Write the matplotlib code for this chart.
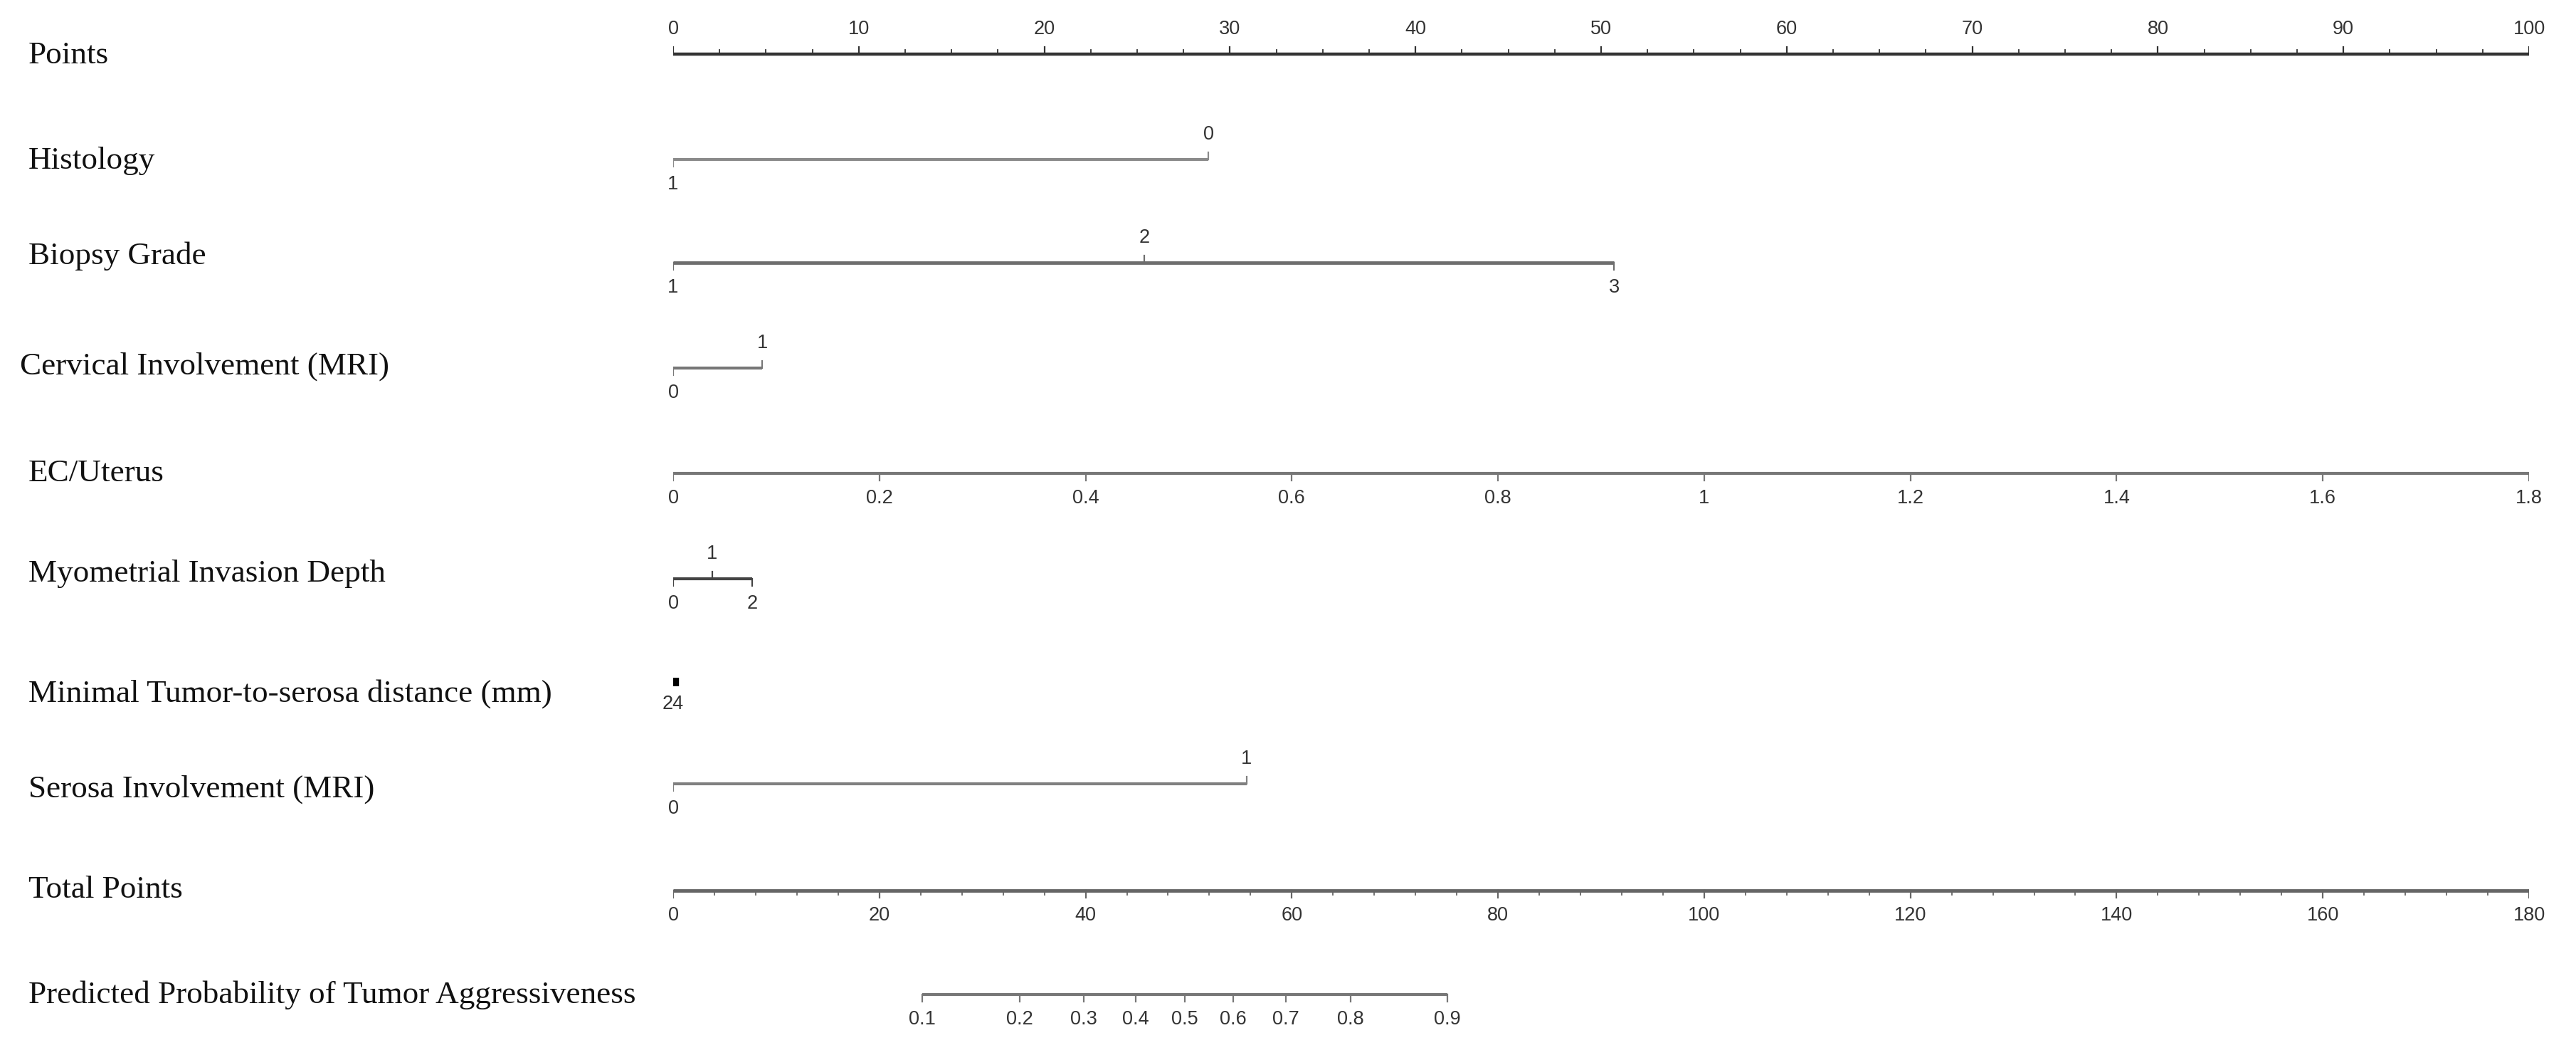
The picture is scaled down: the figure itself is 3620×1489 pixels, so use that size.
import matplotlib
matplotlib.use("Agg")
import matplotlib.pyplot as plt
from matplotlib import font_manager
from matplotlib.transforms import blended_transform_factory

# nomogram rows: name, category values, points each value is worth
row_names = ["Points", "Histology", "Biopsy Grade", "Cervical Involvement (MRI)", "EC/Uterus",
             "Myometrial Invasion Depth", "Minimal Tumor-to-serosa distance (mm)",
             "Serosa Involvement (MRI)", "Total Points",
             "Predicted Probability of Tumor Aggressiveness"]

histology_vals = ["1", "0"]
histology_pts = [0, 28.85]
grade_vals = ["1", "2", "3"]
grade_pts = [0, 25.4, 50.7]
cervical_vals = ["0", "1"]
cervical_pts = [0, 4.8]
ecu_vals = [0, 0.2, 0.4, 0.6, 0.8, 1, 1.2, 1.4, 1.6, 1.8]
ecu_max_pts = 100
myo_vals = ["0", "1", "2"]
myo_pts = [0, 2.1, 4.25]
distance_vals = ["24"]
distance_pts = [0.15]
serosa_vals = ["0", "1"]
serosa_pts = [0, 30.9]
total_max = 180
prob_vals = [0.1, 0.2, 0.3, 0.4, 0.5, 0.6, 0.7, 0.8, 0.9]
prob_total_pts = [24.18, 33.59, 39.81, 44.88, 49.64, 54.32, 59.43, 65.69, 75.07]

# figure pixel layout (3620 x 1489)
W, H = 3620, 1489
row_y = [76, 224, 369, 517, 665, 813, 958, 1101, 1251, 1397]
label_y = [78, 226, 360, 515, 665, 806, 975, 1109, 1250, 1398]
label_x = [40, 40, 40, 28, 40, 40, 40, 40, 40, 40]

names = [f.name for f in font_manager.fontManager.ttflist]
tick_font = "Liberation Sans Narrow" if "Liberation Sans Narrow" in names else "Liberation Sans"
label_font = "Liberation Serif"
tick_fs = 19.5
label_fs = 32.5
tick_col = "#333333"

fig = plt.figure(figsize=(W / 100, H / 100), dpi=100)
ax = fig.add_axes([946 / W, 0, (3554 - 946) / W, 1])
ax.set_xlim(0, 100)
ax.set_ylim(H, 0)
ax.axis("off")
lab_tr = blended_transform_factory(fig.transFigure, ax.transData)

for name, lx, ly in zip(row_names, label_x, label_y):
    ax.text(lx / W, ly, name, transform=lab_tr, family=label_font, fontsize=label_fs,
            color="#111111", ha="left", va="center")


def continuous(y, pos, labels, minor, color, lw, up=False, major_len=10, minor_len=6):
    ax.plot([pos[0], pos[-1]], [y, y], color=color, lw=lw, solid_capstyle="butt")
    s = -1 if up else 1
    for p, t in zip(pos, labels):
        ax.plot([p, p], [y, y + s * major_len], color=color, lw=1.6)
        ax.text(p, y + s * 22, t, family=tick_font, fontsize=tick_fs, color=tick_col,
                ha="center", va="bottom" if up else "top")
    for p in minor:
        ax.plot([p, p], [y, y + s * minor_len], color=color, lw=1.3)


def categorical(y, pts, labels, color, lw):
    order = sorted(range(len(pts)), key=lambda i: pts[i])
    ax.plot([min(pts), max(pts)], [y, y], color=color, lw=lw, solid_capstyle="butt")
    for k, i in enumerate(order):
        up = k % 2 == 1
        s = -1 if up else 1
        ax.plot([pts[i], pts[i]], [y, y + s * 10], color=color, lw=1.6)
        ax.text(pts[i], y + s * 22, labels[i], family=tick_font, fontsize=tick_fs,
                color=tick_col, ha="center", va="bottom" if up else "top")


# Points scale
pts_major = list(range(0, 101, 10))
pts_minor = [v / 2 for v in range(0, 201, 5) if v % 20 != 0]
continuous(row_y[0], pts_major, [str(v) for v in pts_major], pts_minor, "#333333", 3.2, up=True)

categorical(row_y[1], histology_pts, histology_vals, "#8a8a8a", 3)
categorical(row_y[2], grade_pts, grade_vals, "#6e6e6e", 3.5)
categorical(row_y[3], cervical_pts, cervical_vals, "#777777", 3)

ecu_pos = [v / ecu_vals[-1] * ecu_max_pts for v in ecu_vals]
continuous(row_y[4], ecu_pos, [f"{v:g}" for v in ecu_vals], [], "#777777", 3)

categorical(row_y[5], myo_pts, myo_vals, "#444444", 3)

# tiny distance scale
ax.plot([distance_pts[0], distance_pts[0]], [row_y[6] - 6, row_y[6] + 6], color="black", lw=6,
        solid_capstyle="butt")
ax.text(0, row_y[6] + 18, distance_vals[0], family=tick_font, fontsize=tick_fs, color=tick_col,
        ha="center", va="top")

categorical(row_y[7], serosa_pts, serosa_vals, "#808080", 3)

# Total points scale
tot_major = list(range(0, total_max + 1, 20))
tot_minor = [v for v in range(0, total_max + 1, 4) if v % 20 != 0]
sc = 100 / total_max
continuous(row_y[8], [v * sc for v in tot_major], [str(v) for v in tot_major],
           [v * sc for v in tot_minor], "#666666", 3.5)

# probability scale
continuous(row_y[9], [v * sc for v in prob_total_pts], [f"{v:g}" for v in prob_vals], [],
           "#777777", 3)

fig.savefig("out.png", dpi=100, facecolor="white")
